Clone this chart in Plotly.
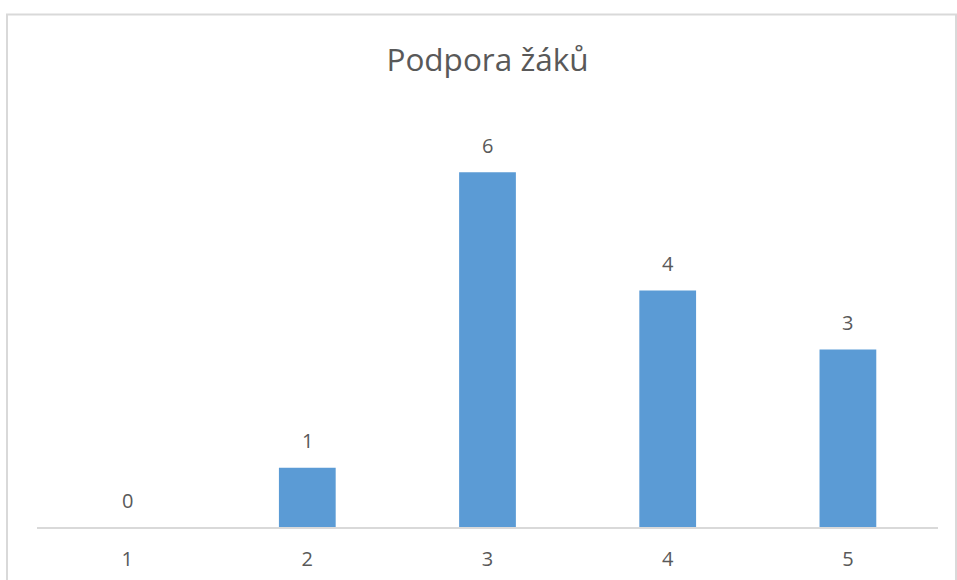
import plotly.graph_objects as go

categories = ["1", "2", "3", "4", "5"]
values = [0, 1, 6, 4, 3]
title_text = "Podpora žáků"

bar_color = "#5b9bd5"
text_color = "#595959"
font_family = "Open Sans, Noto Sans, sans-serif"

W, H = 957, 580
left, right_edge = 37, 938
top, bottom_edge = 112.75, 527.5

fig = go.Figure(
    go.Bar(
        x=categories,
        y=values,
        marker=dict(color=bar_color, line=dict(width=0)),
        width=0.315,
        hoverinfo="skip",
    )
)

# value labels above each bar (category positions by index)
for i, v in enumerate(values):
    fig.add_annotation(
        x=i, y=v, text=str(v), showarrow=False,
        yanchor="middle", yshift=27,
        font=dict(size=20, color=text_color, family=font_family),
    )

pw = right_edge - left
ph = bottom_edge - top
# chart border
fig.add_shape(
    type="rect", xref="paper", yref="paper",
    x0=(7 - left) / pw, x1=(956 - left) / pw,
    y0=(bottom_edge - 590) / ph, y1=(bottom_edge - 14) / ph,
    line=dict(color="#d9d9d9", width=2), fillcolor="rgba(0,0,0,0)",
    layer="below",
)

fig.update_layout(
    width=W, height=H,
    margin=dict(l=left, r=W - right_edge, t=top, b=H - bottom_edge, pad=0,
                autoexpand=False),
    paper_bgcolor="white", plot_bgcolor="white",
    showlegend=False,
    title=dict(
        text=title_text, x=0.5, xref="paper", xanchor="center",
        y=1 - 60 / H, yanchor="middle",
        font=dict(size=31.5, color=text_color, family=font_family),
    ),
    font=dict(family=font_family, color=text_color, size=20),
    xaxis=dict(
        type="category", range=[-0.5, len(categories) - 0.5],
        automargin=False,
        showgrid=False, zeroline=False,
        showline=True, linecolor="#d9d9d9", linewidth=2,
        ticks="", ticklabelstandoff=13,
        tickfont=dict(size=20, color=text_color, family=font_family),
    ),
    yaxis=dict(
        range=[0, 7], automargin=False,
        showgrid=False, zeroline=False, showline=False,
        showticklabels=False, ticks="",
    ),
)

fig.write_html("out.html")
